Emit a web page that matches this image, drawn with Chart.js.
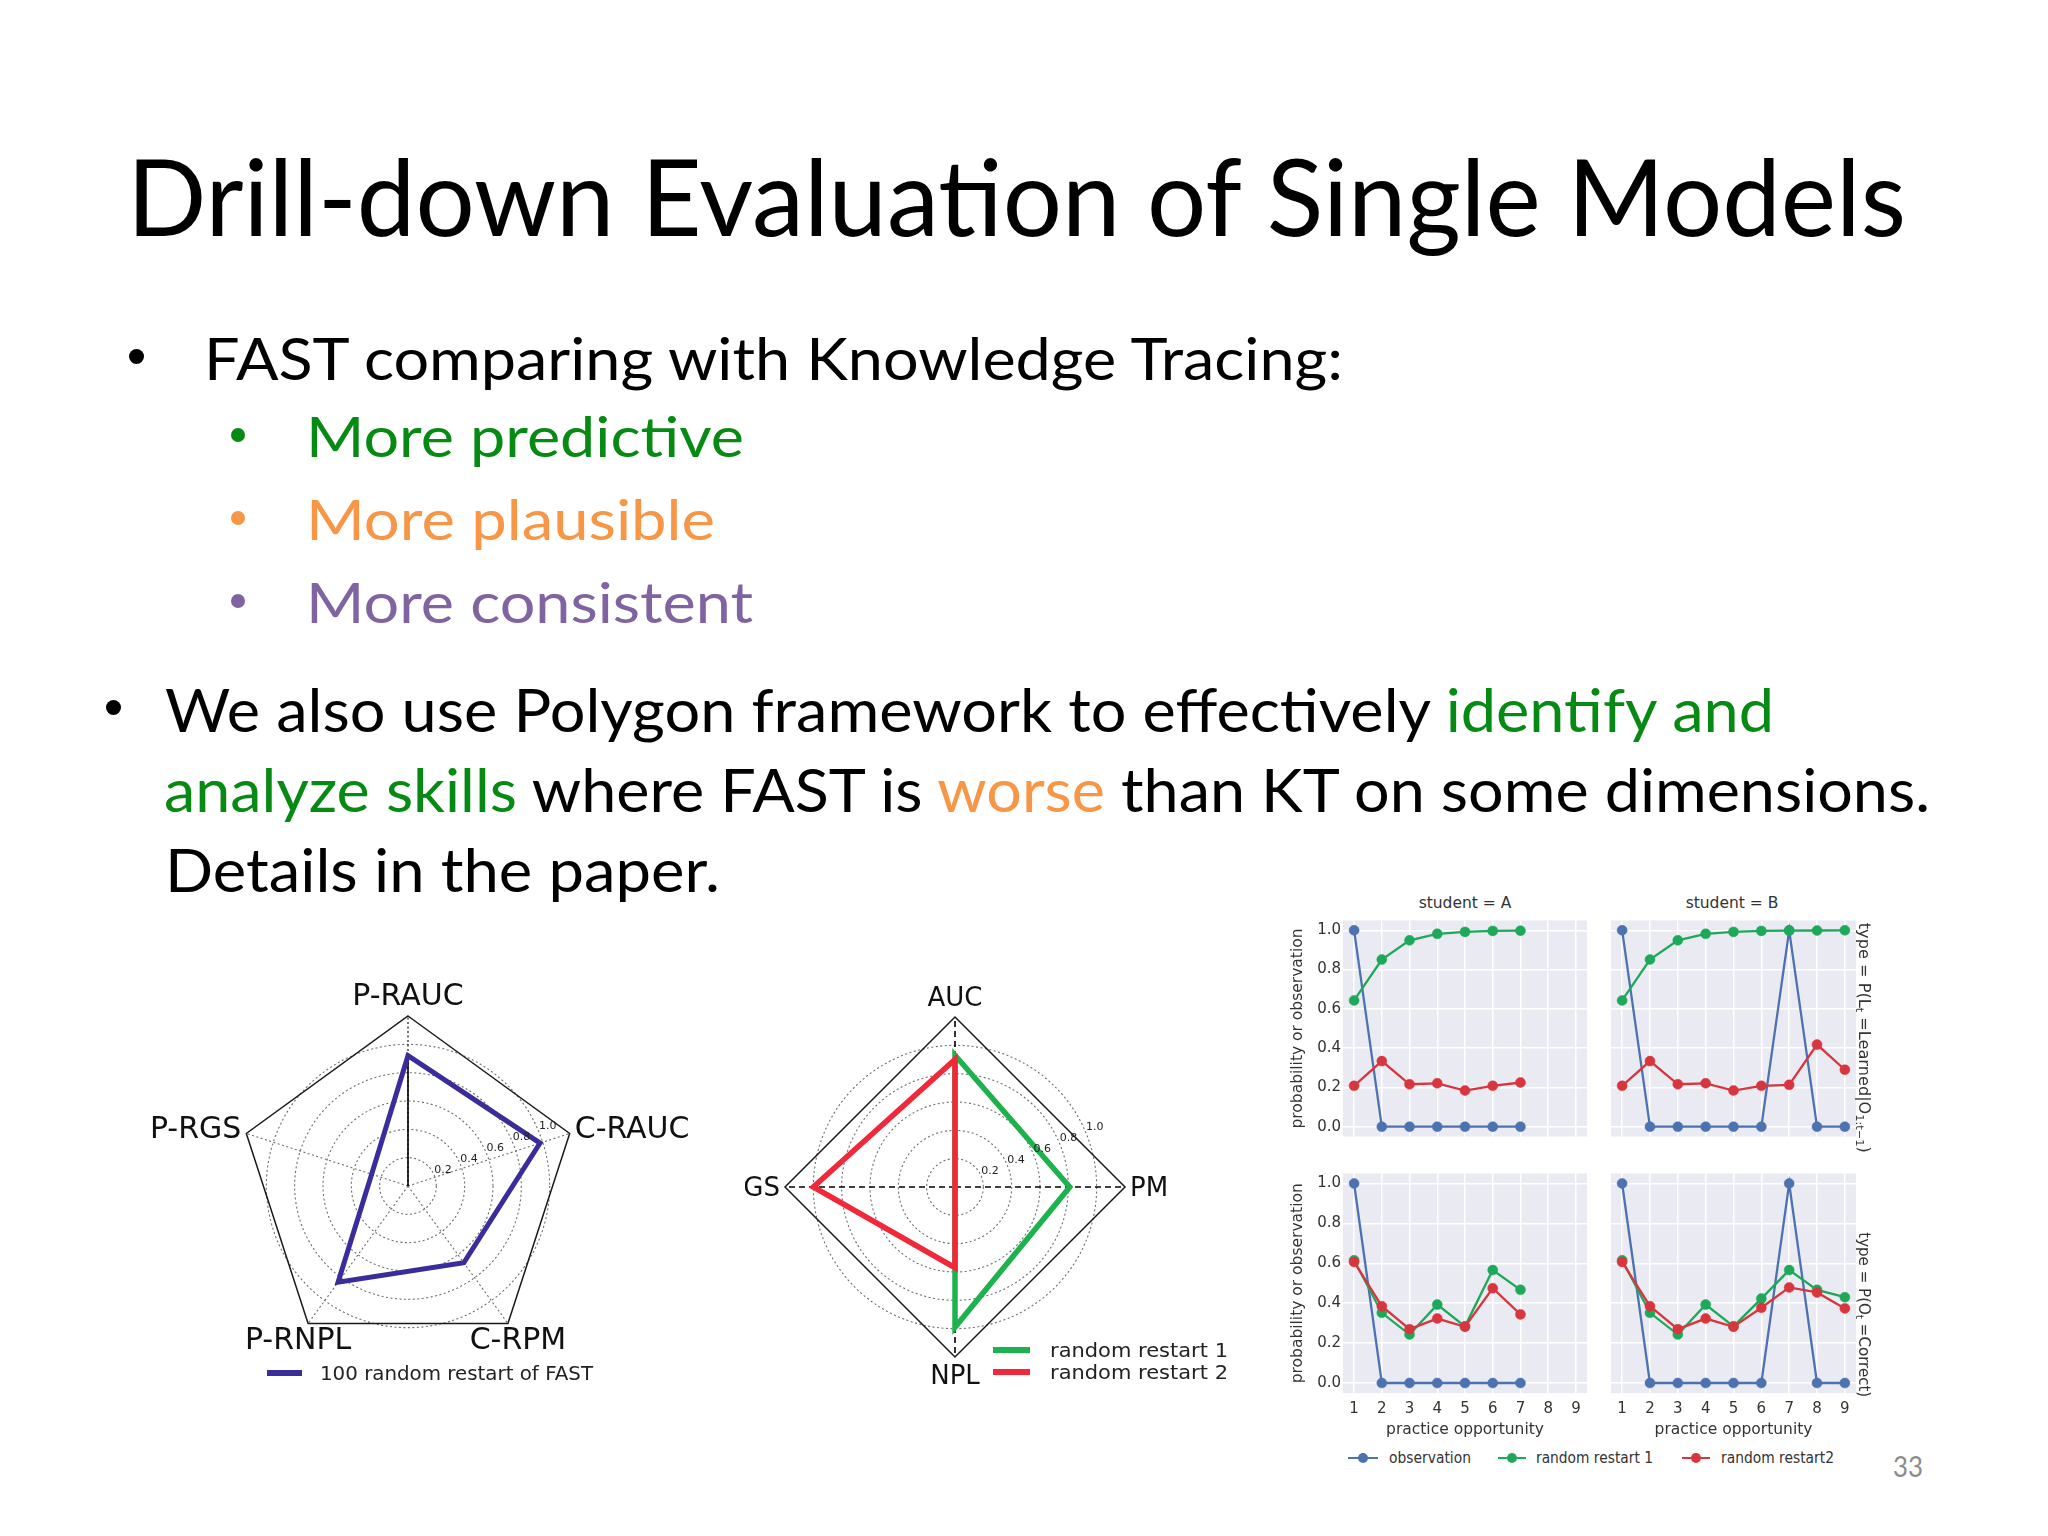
<!DOCTYPE html>
<html><head><meta charset="utf-8">
<script src="https://cdn.jsdelivr.net/npm/chart.js@4.4.0/dist/chart.umd.min.js"></script>
<style>
html,body{margin:0;padding:0;background:#fff;}
#slide{position:relative;width:2048px;height:1536px;overflow:hidden;background:#fff;}
.t{position:absolute;white-space:nowrap;font-family:Lato,'Open Sans',sans-serif;transform-origin:0 0;line-height:1.2;}
.m{position:absolute;white-space:nowrap;font-family:'DejaVu Sans',sans-serif;color:#333;transform-origin:0 0;line-height:1;}
.m sub{font-size:70%;vertical-align:-0.25em;line-height:0;}
canvas{position:absolute;}
</style></head><body><div id="slide">
<canvas id="pent" width="580" height="400" style="left:130px;top:966px"></canvas>
<canvas id="dia" width="440" height="430" style="left:745px;top:966px"></canvas>
<canvas id="pTL" width="310" height="227" style="left:1285px;top:915px"></canvas>
<canvas id="pTR" width="259" height="227" style="left:1605px;top:915px"></canvas>
<canvas id="pBL" width="310" height="275" style="left:1285px;top:1168px"></canvas>
<canvas id="pBR" width="259" height="275" style="left:1605px;top:1168px"></canvas>
</div>
<script>
// ---------------- data ----------------
const pentLabels = ['P-RAUC', 'C-RAUC', 'C-RPM', 'P-RNPL', 'P-RGS'];
const pentFast = [0.92, 0.98, 0.67, 0.84, 0.27];
const diaLabels = ['AUC', 'PM', 'NPL', 'GS'];
const diaRestart1 = [0.93, 0.81, 0.99, 0.0];
const diaRestart2 = [0.90, 0.0, 0.57, 1.0];
const radarTickVals = [0.2, 0.4, 0.6, 0.8, 1.0];

const opportunity = [1, 2, 3, 4, 5, 6, 7, 8, 9];
const yTickVals = [0, 0.2, 0.4, 0.6, 0.8, 1.0];
// student A, type = P(L_t = Learned | O_1:t-1)
const learnA_obs = [1, 0, 0, 0, 0, 0, 0];
const learnA_r1 = [0.643, 0.851, 0.949, 0.982, 0.992, 0.997, 0.998];
const learnA_r2 = [0.208, 0.334, 0.216, 0.221, 0.184, 0.208, 0.225];
// student B, type = P(L_t = Learned | O_1:t-1)
const learnB_obs = [1, 0, 0, 0, 0, 0, 1, 0, 0];
const learnB_r1 = [0.643, 0.851, 0.949, 0.982, 0.992, 0.997, 0.998, 0.999, 1.0];
const learnB_r2 = [0.208, 0.334, 0.216, 0.221, 0.184, 0.208, 0.213, 0.418, 0.290];
// student A, type = P(O_t = Correct)
const corrA_obs = [1, 0, 0, 0, 0, 0, 0];
const corrA_r1 = [0.615, 0.352, 0.243, 0.393, 0.284, 0.566, 0.467];
const corrA_r2 = [0.607, 0.385, 0.270, 0.323, 0.282, 0.475, 0.344];
// student B, type = P(O_t = Correct)
const corrB_obs = [1, 0, 0, 0, 0, 0, 1, 0, 0];
const corrB_r1 = [0.615, 0.352, 0.243, 0.393, 0.284, 0.423, 0.566, 0.467, 0.430];
const corrB_r2 = [0.607, 0.385, 0.270, 0.323, 0.282, 0.377, 0.479, 0.454, 0.374];

// ---------------- styles ----------------
const PURPLE = '#3a2d9b', RGREEN = '#1db24d', RRED = '#f0283a';
const BLUE = '#4c72b0', GREEN = '#1ea85a', RED = '#d8363f';
const TXGREEN = '#078a14', TXORANGE = '#f79646', TXPURPLE = '#8064a2';
Chart.defaults.font.family = 'DejaVu Sans';

const slide = document.getElementById('slide');
function mk(cls, html, css) {
  const e = document.createElement('div');
  e.className = cls; e.innerHTML = html; if (css) e.style.cssText += css;
  slide.appendChild(e); return e;
}
const placers = [];
function placeLine(el, left, baseline, right) {
  placers.push(() => {
    el.style.transform = ''; el.style.left = left + 'px'; el.style.top = '0px';
    let mkr = el.querySelector('.bm');
    if (!mkr) { mkr = document.createElement('span'); mkr.className = 'bm';
      mkr.style.cssText = 'display:inline-block;width:0;height:0;vertical-align:baseline;'; el.appendChild(mkr); }
    const r = el.getBoundingClientRect(), m = mkr.getBoundingClientRect();
    el.style.top = (baseline - (m.bottom - r.top)) + 'px';
    if (right != null) el.style.transform = 'scaleX(' + ((right - left) / r.width) + ')';
  });
}
function placeLR(el, left, right, cy) {
  placers.push(() => {
    el.style.transform = ''; el.style.left = left + 'px'; el.style.top = '0px';
    const r = el.getBoundingClientRect();
    el.style.top = (cy - r.height / 2) + 'px';
    el.style.transform = 'scaleX(' + ((right - left) / r.width) + ')';
  });
}
function placeCenter(el, cx, cy) {
  placers.push(() => {
    el.style.left = '0px'; el.style.top = '0px';
    const r = el.getBoundingClientRect();
    el.style.left = (cx - r.width / 2) + 'px'; el.style.top = (cy - r.height / 2) + 'px';
  });
}
function placeRot(el, cx, top, bottom) {
  placers.push(() => {
    el.style.transform = ''; el.style.left = '0px'; el.style.top = '0px';
    const r = el.getBoundingClientRect();
    const s = (bottom - top) / r.width;
    el.style.transformOrigin = '50% 50%';
    el.style.left = (cx - r.width / 2) + 'px'; el.style.top = ((top + bottom) / 2 - r.height / 2) + 'px';
    el.style.transform = 'rotate(90deg) scaleX(' + s + ')';
  });
}
function dot(cx, cy, d, color) {
  mk('', '', `position:absolute;left:${cx - d / 2}px;top:${cy - d / 2}px;width:${d}px;height:${d}px;border-radius:50%;background:${color}`);
}
function seg(x1, x2, y, h, color) {
  mk('', '', `position:absolute;left:${x1}px;top:${y - h / 2}px;width:${x2 - x1}px;height:${h}px;background:${color}`);
}

// ---------------- slide text ----------------
placeLine(mk('t', 'Drill-down Evaluation of Single Models', 'font-size:107px;color:#000'), 127, 236, 1906);
dot(136, 356, 15, '#000');
placeLine(mk('t', 'FAST comparing with Knowledge Tracing:', 'font-size:59px;color:#000'), 204, 380, 1343);
dot(238, 435, 14, TXGREEN);
placeLine(mk('t', 'More predictive', `font-size:56px;color:${TXGREEN}`), 306, 457, 744);
dot(238, 518, 14, TXORANGE);
placeLine(mk('t', 'More plausible', `font-size:56px;color:${TXORANGE}`), 306, 540, 715);
dot(238, 601, 14, TXPURPLE);
placeLine(mk('t', 'More consistent', `font-size:56px;color:${TXPURPLE}`), 306, 623, 753);
dot(113, 707, 15, '#000');
placeLine(mk('t', `We also use Polygon framework to effectively <span style="color:${TXGREEN}">identify and</span>`, 'font-size:60px;color:#000'), 165, 732, 1774);
placeLine(mk('t', `<span style="color:${TXGREEN}">analyze skills</span> where FAST is <span style="color:${TXORANGE}">worse</span> than KT on some dimensions.`, 'font-size:60px;color:#000'), 164, 812, 1930);
placeLine(mk('t', 'Details in the paper.', 'font-size:60px;color:#000'), 165, 892, 720);
placeLine(mk('t', '33', 'font-size:28px;color:#8b8b8b'), 1893, 1477, 1923);

// radar legends
seg(267, 302, 1373, 6, PURPLE);
placeLR(mk('m', '100 random restart of FAST', 'font-size:19px;color:#222'), 320, 593, 1373);
seg(993, 1030, 1350, 6, RGREEN);
placeLR(mk('m', 'random restart 1', 'font-size:20px;color:#222'), 1050, 1228, 1350);
seg(993, 1030, 1372, 6, RRED);
placeLR(mk('m', 'random restart 2', 'font-size:20px;color:#222'), 1050, 1228, 1372);

// small multiples text
placeCenter(mk('m', 'student = A', 'font-size:15.5px'), 1465, 904);
placeCenter(mk('m', 'student = B', 'font-size:15.5px'), 1732, 904);
placeRot(mk('m', 'type = P(L<sub>t</sub> =Learned|O<sub>1:t\u22121</sub>)', 'font-size:15.5px'), 1863, 923, 1153);
placeRot(mk('m', 'type = P(O<sub>t</sub> =Correct)', 'font-size:15.5px'), 1863, 1232, 1397);
seg(1348, 1378, 1458, 2.5, BLUE); dot(1363, 1458, 10, BLUE);
placeLR(mk('m', 'observation', 'font-size:15px'), 1389, 1471, 1458);
seg(1498, 1526, 1458, 2.5, GREEN); dot(1512, 1458, 10, GREEN);
placeLR(mk('m', 'random restart 1', 'font-size:15px'), 1536, 1653, 1458);
seg(1682, 1710, 1458, 2.5, RED); dot(1696, 1458, 10, RED);
placeLR(mk('m', 'random restart2', 'font-size:15px'), 1721, 1834, 1458);

function runPlacers() { placers.forEach(f => f()); }
runPlacers();
if (document.fonts && document.fonts.ready) document.fonts.ready.then(runPlacers);

// ---------------- radar charts ----------------
const radarDecor = {
  id: 'radarDecor',
  beforeDatasetsDraw(chart, args, o) {
    const s = chart.scales.r, ctx = chart.ctx, n = chart.data.labels.length;
    ctx.save();
    ctx.strokeStyle = '#1a1a1a'; ctx.lineWidth = 1.5; ctx.setLineDash([]);
    ctx.beginPath();
    for (let i = 0; i < n; i++) {
      const p = s.getPointPositionForValue(i, s.max);
      if (i) ctx.lineTo(p.x, p.y); else ctx.moveTo(p.x, p.y);
    }
    ctx.closePath(); ctx.stroke();
    if (o.spoke) {
      const p = s.getPointPositionForValue(0, chart.data.datasets[0].data[0]);
      ctx.strokeStyle = '#000'; ctx.lineWidth = 1.6;
      ctx.beginPath(); ctx.moveTo(s.xCenter, s.yCenter); ctx.lineTo(p.x, p.y); ctx.stroke();
    }
    ctx.restore();
  },
  afterDraw(chart, args, o) {
    const s = chart.scales.r, ctx = chart.ctx, labels = chart.data.labels;
    ctx.save();
    // radial tick labels along 22.5 degrees
    ctx.font = '11px "DejaVu Sans"'; ctx.fillStyle = '#222';
    ctx.textAlign = 'left'; ctx.textBaseline = 'bottom';
    const a = 22.5 * Math.PI / 180;
    radarTickVals.forEach(v => {
      const d = s.getDistanceFromCenterForValue(v);
      ctx.fillText(v.toFixed(1), s.xCenter + d * Math.cos(a), s.yCenter - d * Math.sin(a));
    });
    // axis labels
    ctx.font = o.labelSize + 'px "DejaVu Sans"'; ctx.fillStyle = '#111';
    const cap = o.labelSize * 0.729;
    labels.forEach((lab, i) => {
      const v = s.getPointPositionForValue(i, s.max);
      const ang = s.getIndexAngle(i) - Math.PI / 2;
      const c = Math.cos(ang), up = -Math.sin(ang);
      ctx.textBaseline = 'alphabetic';
      if (Math.abs(c) < 0.1) {
        ctx.textAlign = 'center';
        ctx.fillText(lab, v.x, up > 0 ? v.y - 11 : v.y + 8 + cap);
      } else if (up > -0.5) {
        ctx.textAlign = c > 0 ? 'left' : 'right';
        ctx.fillText(lab, v.x + (c > 0 ? 5 : -5), v.y - 20 * up + cap / 2);
      } else {
        ctx.textAlign = 'center';
        ctx.fillText(lab, v.x + (c > 0 ? 10 : -10), v.y + 4 + cap);
      }
    });
    ctx.restore();
  }
};

function radarChart(id, labels, datasets, o) {
  return new Chart(document.getElementById(id), {
    type: 'radar',
    data: { labels, datasets },
    options: {
      responsive: false, animation: false, devicePixelRatio: 1,
      layout: { padding: o.padding },
      plugins: { legend: { display: false }, tooltip: { enabled: false }, radarDecor: o.decor },
      elements: { line: { tension: 0, borderJoinStyle: 'miter', fill: false }, point: { radius: 0, hoverRadius: 0 } },
      scales: {
        r: {
          min: 0, max: 1.2,
          ticks: { display: false, stepSize: 0.2 },
          pointLabels: { display: false },
          grid: {
            circular: true, lineWidth: 1.1,
            color: c => (c.tick && c.tick.value > 1.05) ? 'rgba(0,0,0,0)' : '#6e6e6e'
          },
          border: { dash: [2, 2.5] },
          angleLines: { color: o.angleColor, lineWidth: o.angleWidth, borderDash: o.angleDash }
        }
      }
    },
    plugins: [radarDecor]
  });
}

radarChart('pent', pentLabels, [
  { label: '100 random restart of FAST', data: pentFast, borderColor: PURPLE, borderWidth: 5 }
], {
  padding: { left: 108, right: 132, top: 50, bottom: 10 },
  decor: { labelSize: 30, spoke: true },
  angleColor: c => c.index === 0 ? '#000' : '#6e6e6e', angleWidth: 1.1, angleDash: [2, 2.5]
});

radarChart('dia', diaLabels, [
  { label: 'random restart 1', data: diaRestart1, borderColor: RGREEN, borderWidth: 5.5, order: 1 },
  { label: 'random restart 2', data: diaRestart2, borderColor: RRED, borderWidth: 5.5, order: 0 }
], {
  padding: { left: 40, right: 60, top: 51, bottom: 39 },
  decor: { labelSize: 26, spoke: false },
  angleColor: '#000', angleWidth: 1.6, angleDash: [6, 4]
});

// ---------------- small multiples ----------------
const panelBg = {
  id: 'panelBg',
  beforeDraw(chart) {
    const { ctx, chartArea: a } = chart;
    ctx.save(); ctx.fillStyle = '#eaeaf2';
    ctx.fillRect(a.left, a.top, a.right - a.left, a.bottom - a.top); ctx.restore();
  }
};
function series(label, vals, color, order) {
  return {
    label, order, data: vals.map((v, i) => ({ x: opportunity[i], y: v })),
    borderColor: color, backgroundColor: color, pointBackgroundColor: color, pointBorderColor: color,
    borderWidth: 2.3, pointRadius: 5, pointBorderWidth: 0.5, pointHoverRadius: 5, tension: 0, fill: false
  };
}
function panel(id, obs, r1, r2, showY, showX) {
  const tickFont = { family: 'DejaVu Sans', size: 15 };
  const titleFont = { family: 'DejaVu Sans', size: 15.5 };
  return new Chart(document.getElementById(id), {
    type: 'line',
    data: { datasets: [series('observation', obs, BLUE, 3), series('random restart 1', r1, GREEN, 2), series('random restart2', r2, RED, 1)] },
    options: {
      responsive: false, animation: false, devicePixelRatio: 1,
      layout: { padding: { left: 0, top: 0, bottom: 0, right: 8 } },
      plugins: { legend: { display: false }, tooltip: { enabled: false } },
      scales: {
        x: {
          type: 'linear', min: 0.6, max: 9.4,
          afterBuildTicks: s => { s.ticks = opportunity.map(v => ({ value: v })); },
          afterFit: s => { s.height = showX ? 50 : 2; s.paddingLeft = 0; s.paddingRight = 0; },
          grid: { color: '#ffffff', lineWidth: 1.5, drawTicks: false },
          border: { display: false },
          ticks: { display: showX, padding: 7, font: tickFont, color: '#333', callback: v => String(v) },
          title: { display: showX, text: 'practice opportunity', font: titleFont, color: '#333', padding: { top: 0, bottom: 3.5 } }
        },
        y: {
          min: -0.05, max: 1.05,
          afterBuildTicks: s => { s.ticks = yTickVals.map(v => ({ value: v })); },
          afterFit: s => { s.width = showY ? 58 : 6; s.paddingTop = 0; s.paddingBottom = 0; },
          grid: { color: '#ffffff', lineWidth: 1.5, drawTicks: false },
          border: { display: false },
          ticks: { display: showY, padding: 2, font: tickFont, color: '#333', callback: v => v.toFixed(1) },
          title: { display: showY, text: 'probability or observation', font: titleFont, color: '#333', padding: { top: 4, bottom: 0 } }
        }
      }
    },
    plugins: [panelBg]
  });
}
panel('pTL', learnA_obs, learnA_r1, learnA_r2, true, false);
panel('pTR', learnB_obs, learnB_r1, learnB_r2, false, false);
panel('pBL', corrA_obs, corrA_r1, corrA_r2, true, true);
panel('pBR', corrB_obs, corrB_r1, corrB_r2, false, true);
</script>
</body></html>
